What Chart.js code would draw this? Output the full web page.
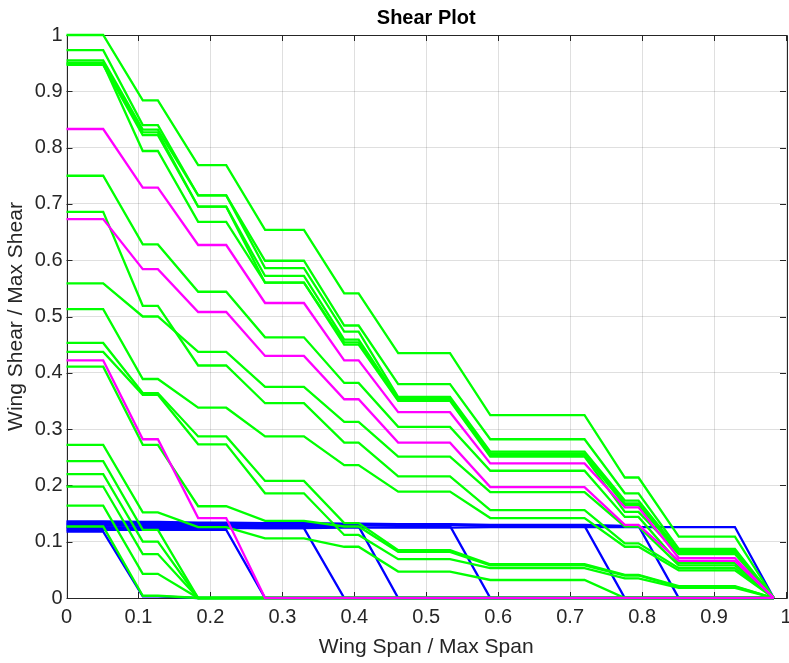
<!DOCTYPE html>
<html><head><meta charset="utf-8">
<script src="https://cdn.jsdelivr.net/npm/chart.js@4.4.1/dist/chart.umd.min.js"></script>
<style>html,body{margin:0;padding:0;background:#fff;}#wrap{width:789px;height:663px;}</style>
</head><body><div id="wrap"><canvas id="c" width="789" height="663"></canvas></div>
<script>
// Span stations (x) at which the plateau/ramp pattern changes
const spanBreaks = [0, 0.051, 0.106, 0.127, 0.183, 0.222, 0.276, 0.330, 0.386, 0.406, 0.461, 0.533, 0.589, 0.720, 0.776, 0.795, 0.851, 0.929, 0.983];
const xTickValues = [0, 0.1, 0.2, 0.3, 0.4, 0.5, 0.6, 0.7, 0.8, 0.9, 1];
const yTickValues = [0, 0.1, 0.2, 0.3, 0.4, 0.5, 0.6, 0.7, 0.8, 0.9, 1];
const xTickLabels = ['0', '0.1', '0.2', '0.3', '0.4', '0.5', '0.6', '0.7', '0.8', '0.9', '1'];
const yTickLabels = ['0', '0.1', '0.2', '0.3', '0.4', '0.5', '0.6', '0.7', '0.8', '0.9', '1'];

// Plateau levels of each curve (9 plateaus + tip value)
const greenCurves = [
  [1.000, 0.884, 0.769, 0.654, 0.541, 0.435, 0.325, 0.214, 0.109, 0],
  [0.973, 0.840, 0.715, 0.599, 0.484, 0.380, 0.282, 0.186, 0.087, 0],
  [0.955, 0.832, 0.715, 0.586, 0.473, 0.357, 0.260, 0.173, 0.084, 0],
  [0.951, 0.827, 0.695, 0.572, 0.459, 0.354, 0.257, 0.168, 0.082, 0],
  [0.947, 0.822, 0.695, 0.560, 0.454, 0.352, 0.254, 0.165, 0.080, 0],
  [0.949, 0.794, 0.668, 0.560, 0.450, 0.350, 0.251, 0.153, 0.078, 0],
  [0.750, 0.628, 0.544, 0.463, 0.382, 0.304, 0.226, 0.144, 0.062, 0],
  [0.686, 0.519, 0.413, 0.346, 0.276, 0.216, 0.156, 0.097, 0.053, 0],
  [0.559, 0.500, 0.437, 0.375, 0.313, 0.251, 0.188, 0.127, 0.058, 0],
  [0.513, 0.389, 0.338, 0.287, 0.236, 0.189, 0.142, 0.091, 0.049, 0],
  [0.453, 0.364, 0.287, 0.208, 0.133, 0.085, 0.060, 0.041, 0.021, 0],
  [0.437, 0.361, 0.273, 0.186, 0.112, 0.069, 0.053, 0.035, 0.018, 0],
  [0.411, 0.272, 0.163, 0.137, 0.127, 0.082, 0.058, 0.040, 0.020, 0],
  [0.272, 0.152, 0.126, 0.106, 0.091, 0.047, 0.032, 0, 0, 0],
  [0.243, 0.121, 0, 0, 0, 0, 0, 0, 0, 0],
  [0.220, 0.100, 0, 0, 0, 0, 0, 0, 0, 0],
  [0.198, 0.078, 0, 0, 0, 0, 0, 0, 0, 0],
  [0.164, 0.043, 0, 0, 0, 0, 0, 0, 0, 0],
  [0.127, 0.004, 0, 0, 0, 0, 0, 0, 0, 0]
];
const magentaCurves = [
  [0.833, 0.729, 0.627, 0.524, 0.422, 0.330, 0.239, 0.161, 0.071, 0],
  [0.673, 0.584, 0.508, 0.430, 0.353, 0.276, 0.197, 0.130, 0.066, 0],
  [0.422, 0.282, 0.142, 0, 0, 0, 0, 0, 0, 0]
];
const blueCurves = [
  [0.118, 0.003, 0, 0, 0, 0, 0, 0, 0, 0],
  [0.121, 0.121, 0.121, 0, 0, 0, 0, 0, 0, 0],
  [0.126, 0.125, 0.125, 0.124, 0, 0, 0, 0, 0, 0],
  [0.129, 0.128, 0.128, 0.127, 0.127, 0, 0, 0, 0, 0],
  [0.131, 0.131, 0.130, 0.130, 0.129, 0.128, 0, 0, 0, 0],
  [0.134, 0.133, 0.132, 0.131, 0.131, 0.130, 0.128, 0, 0, 0],
  [0.136, 0.135, 0.134, 0.133, 0.132, 0.131, 0.130, 0.128, 0, 0],
  [0.124, 0.124, 0.124, 0.124, 0.125, 0.125, 0.126, 0.126, 0.126, 0]
];

function toPoints(levels) {
  const pts = [];
  for (let k = 0; k < 9; k++) {
    pts.push({x: spanBreaks[2 * k], y: levels[k]});
    pts.push({x: spanBreaks[2 * k + 1], y: levels[k]});
  }
  pts.push({x: spanBreaks[18], y: levels[9]});
  return pts;
}
function makeSets(curves, color) {
  return curves.map(lv => ({data: toPoints(lv), borderColor: color, borderWidth: 2.3, pointRadius: 0, fill: false, tension: 0, clip: false}));
}
// first datasets are drawn on top in Chart.js
const datasets = [].concat(makeSets(magentaCurves, '#ff00ff'), makeSets(greenCurves, '#00ff00'), makeSets(blueCurves, '#0000ff'));

const TXT = '#262626';
const FONT = "'Liberation Sans', Arial, Helvetica, sans-serif";

const framePlugin = {
  id: 'frame',
  beforeDatasetsDraw(chart) {
    const {ctx, chartArea: a, scales: {x, y}} = chart;
    ctx.save();
    ctx.strokeStyle = TXT;
    ctx.lineWidth = 1;
    ctx.beginPath();
    ctx.rect(Math.round(a.left) + 0.5, Math.round(a.top) + 0.5, Math.round(a.right - a.left), Math.round(a.bottom - a.top));
    const L = 6;
    xTickValues.forEach(v => {
      const px = Math.round(x.getPixelForValue(v)) + 0.5;
      ctx.moveTo(px, a.bottom); ctx.lineTo(px, a.bottom - L);
      ctx.moveTo(px, a.top); ctx.lineTo(px, a.top + L);
    });
    yTickValues.forEach(v => {
      const py = Math.round(y.getPixelForValue(v)) + 0.5;
      ctx.moveTo(a.left, py); ctx.lineTo(a.left + L, py);
      ctx.moveTo(a.right, py); ctx.lineTo(a.right - L, py);
    });
    ctx.stroke();
    ctx.restore();
  }
};

new Chart(document.getElementById('c'), {
  type: 'line',
  data: {datasets},
  plugins: [framePlugin],
  options: {
    responsive: false,
    animation: false,
    events: [],
    layout: {padding: {left: 0, right: 3, top: 0, bottom: 0}},
    plugins: {
      legend: {display: false},
      tooltip: {enabled: false},
      title: {display: true, fullSize: false, text: 'Shear Plot', color: '#000', font: {family: FONT, size: 20, weight: 'bold'}, padding: {top: 6, bottom: 5}}
    },
    scales: {
      x: {
        type: 'linear', min: 0, max: 1,
        afterBuildTicks: s => { s.ticks = xTickValues.map(v => ({value: v})); },
        afterFit: s => { s.height = 65; s.paddingLeft = 0; s.paddingRight = 0; },
        ticks: {color: TXT, font: {family: FONT, size: 20}, padding: 7, maxRotation: 0, autoSkip: false,
                callback: (v, i) => xTickLabels[i]},
        grid: {color: 'rgba(38,38,38,0.15)', lineWidth: 1, drawTicks: false},
        border: {display: false},
        title: {display: true, text: 'Wing Span / Max Span', color: TXT, font: {family: FONT, size: 21}, padding: {top: 0, bottom: 3}}
      },
      y: {
        type: 'linear', min: 0, max: 1,
        afterBuildTicks: s => { s.ticks = yTickValues.map(v => ({value: v})); },
        afterFit: s => { s.width = 66.5; },
        ticks: {color: TXT, font: {family: FONT, size: 20}, padding: 4, autoSkip: false,
                callback: (v, i) => yTickLabels[i]},
        grid: {color: 'rgba(38,38,38,0.15)', lineWidth: 1, drawTicks: false},
        border: {display: false},
        title: {display: true, text: 'Wing Shear / Max Shear', color: TXT, font: {family: FONT, size: 21}, padding: {top: 4, bottom: 0}}
      }
    }
  }
});
</script></body></html>
